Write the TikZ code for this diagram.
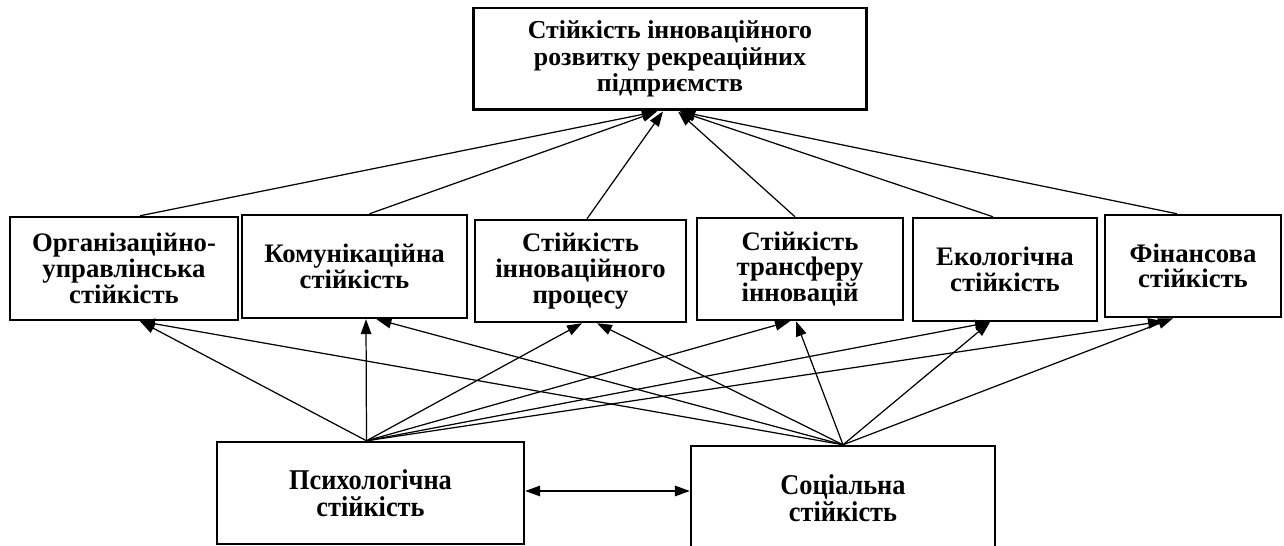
\documentclass[tikz,border=0pt]{standalone}
\usepackage{fontspec}
\setmainfont{Liberation Serif}
\newfontfamily\narrowfont[FakeStretch=0.92]{Liberation Serif}
\usepackage{tikz}
\usetikzlibrary{calc}
\usetikzlibrary{arrows.meta}
\tikzset{
	>={Triangle[length=8.5pt,width=6pt]},
	topbox/.style={
		rectangle,
		draw=black, line width=1.7pt,
		align=center,
		inner sep=0pt,
		font={\fontsize{14.7}{15}\selectfont\bfseries}},
	factor/.style={
		rectangle,
		draw=black, line width=1.4pt,
		align=center,
		inner sep=0pt,
		font={\fontsize{15.2}{14.6}\selectfont\bfseries}},
	basebox/.style={
		factor,
		font={\narrowfont\fontsize{16.3}{15.2}\selectfont\bfseries}},
	line/.style={draw, line width=0.7pt, ->},
}

\begin{document}
\begin{tikzpicture}[x=0.02cm, y=-0.02cm]
	\useasboundingbox (0,0) rectangle (1284,546);

	\node[topbox, minimum width=7.88cm, minimum height=2.04cm] (top) at (670,59)
		{Стійкість інноваційного\\розвитку рекреаційних\\підприємств};

	% factors
	\node[factor, minimum width=4.56cm, minimum height=2.06cm] (org) at (124,268.5)
		{Організаційно-\\управлінська\\стійкість};
	\node[factor, minimum width=4.5cm, minimum height=2.06cm] (komm) at (354.5,266.5)
		{Комунікаційна\\стійкість};
	\node[factor, minimum width=4.22cm, minimum height=2.04cm] (proz) at (580.5,271)
		{Стійкість\\інноваційного\\процесу};
	\node[factor, minimum width=4.12cm, minimum height=2.04cm] (trans) at (800,269)
		{Стійкість\\трансферу\\інновацій};
	\node[factor, minimum width=3.68cm, minimum height=2.06cm] (eko) at (1005,269.5)
		{Екологічна\\стійкість};
	\node[factor, minimum width=3.52cm, minimum height=2.04cm] (fin) at (1193,266)
		{Фінансова\\стійкість};

	\node[basebox, minimum width=6.14cm, minimum height=2.04cm] (psych) at (370.5,493)
		{Психологічна\\стійкість};
	\node[basebox, minimum width=6.08cm, minimum height=2.08cm] (soz) at (843,498)
		{Соціальна\\стійкість};

	\coordinate (ph) at ($(psych.north)+(-4,0)$);
	\coordinate (sh) at (soz.north);

	% up to the top box
	\draw[line] ($(org.north)+(16,0)$) -- ($(top.south)+(-13,0)$);
	\draw[line] ($(komm.north)+(15,0)$) -- ($(top.south)+(-13,0)$);
	\draw[line] ($(proz.north)+(6.5,0)$) -- ($(top.south)+(-7,0)$);
	\draw[line] ($(trans.north)+(-5,0)$) -- ($(top.south)+(8,0)$);
	\draw[line] ($(eko.north)+(-12,0)$) -- ($(top.south)+(10,0)$);
	\draw[line] ($(fin.north)+(-16,0)$) -- ($(top.south)+(10,0)$);

	% psychological
	\draw[line] (ph) -- ($(org.south)+(16,0)$);
	\draw[line] (ph) -- ($(komm.south)+(11.5,0)$);
	\draw[line] (ph) -- ($(proz.south)+(1.5,0)$);
	\draw[line] (ph) -- ($(trans.south)+(-10,0)$);
	\draw[line] (ph) -- ($(eko.south)+(-15,0)$);
	\draw[line] (ph) -- ($(fin.south)+(-30,3)$);

	% social
	\draw[line] (sh) -- ($(org.south)+(16,0)$);
	\draw[line] (sh) -- ($(komm.south)+(22,0)$);
	\draw[line] (sh) -- ($(proz.south)+(16.5,0)$);
	\draw[line] (sh) -- ($(trans.south)+(-4,0)$);
	\draw[line] (sh) -- ($(eko.south)+(-15,0)$);
	\draw[line] (sh) -- ($(fin.south)+(-20,0)$);

	\draw[line, <->] ($(psych.east)+(0,-2)$) -- ($(psych.east -| soz.west)+(0,-2)$);
\end{tikzpicture}
\end{document}
